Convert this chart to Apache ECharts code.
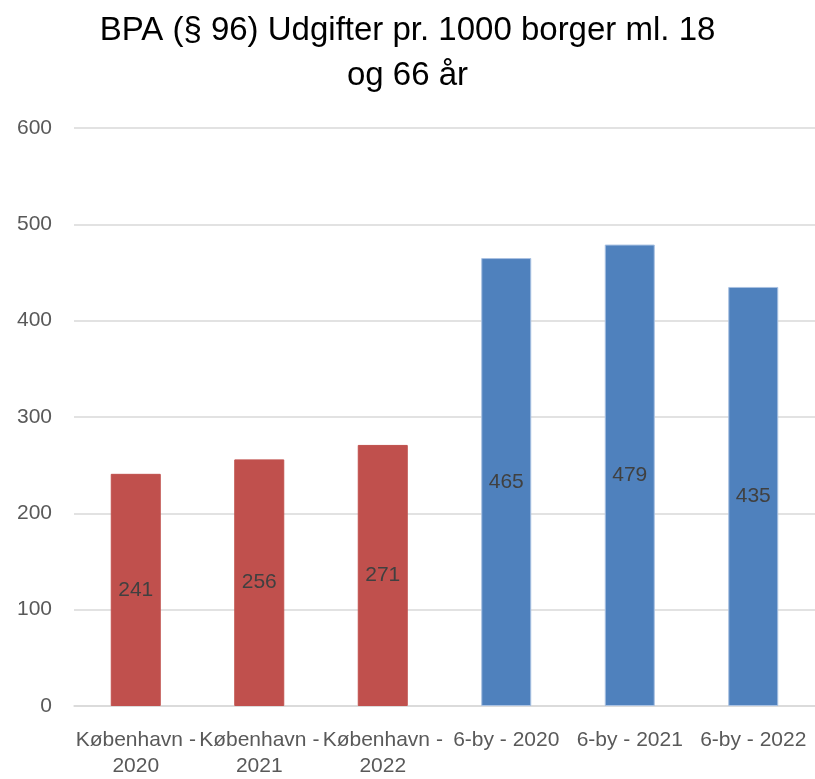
<!DOCTYPE html>
<html>
<head>
<meta charset="utf-8">
<script src="https://cdn.jsdelivr.net/npm/echarts@6/dist/echarts.min.js"></script>
<style>
  html, body { margin: 0; padding: 0; background: #fff; }
  #chart { width: 815px; height: 779px; }
</style>
</head>
<body>
<div id="chart"></div>
<script>
// BPA spending per 1000 citizens aged 18-66
const categories = ['København - 2020', 'København - 2021', 'København - 2022',
                    '6-by - 2020', '6-by - 2021', '6-by - 2022'];
const values = [241, 256, 271, 465, 479, 435];
const groups = ['kbh', 'kbh', 'kbh', '6by', '6by', '6by'];
const yTicks = [0, 100, 200, 300, 400, 500, 600];

const groupColor = { kbh: '#C0504D', '6by': '#4F81BD' };
const groupBorder = { kbh: '#C0504D', '6by': '#A9C1E2' };

const chart = echarts.init(document.getElementById('chart'));
chart.setOption({
  animation: false,
  title: {
    text: 'BPA (§ 96) Udgifter pr. 1000 borger ml. 18\nog 66 år',
    left: 'center',
    top: 3,
    textStyle: {
      fontFamily: 'Liberation Sans',
      fontSize: 33,
      fontWeight: 'normal',
      color: '#000',
      lineHeight: 45
    }
  },
  grid: { left: 74, top: 128, width: 744, height: 585 },
  xAxis: {
    type: 'category',
    data: categories,
    axisLine: { lineStyle: { color: '#d9d9d9', width: 1.5 } },
    axisTick: { show: false },
    axisLabel: {
      interval: 0,
      margin: 21,
      color: '#595959',
      fontFamily: 'Liberation Sans',
      fontSize: 21,
      lineHeight: 26,
      formatter: v => v.length > 12 ? v.replace(' - ', ' -\n') : v
    }
  },
  yAxis: {
    type: 'value',
    min: yTicks[0],
    max: yTicks[yTicks.length - 1],
    interval: 100,
    axisLine: { show: false },
    axisTick: { show: false },
    splitLine: { lineStyle: { color: '#d9d9d9', width: 1.5 } },
    axisLabel: {
      margin: 22,
      color: '#595959',
      fontFamily: 'Liberation Sans',
      fontSize: 21
    }
  },
  series: [{
    type: 'bar',
    barWidth: 50,
    data: values.map((v, i) => ({
      value: v,
      itemStyle: {
        color: groupColor[groups[i]],
        borderColor: groupBorder[groups[i]],
        borderWidth: 1
      }
    })),
    label: {
      show: true,
      position: 'inside',
      color: '#404040',
      fontFamily: 'Liberation Sans',
      fontSize: 21
    }
  }]
});
</script>
</body>
</html>
